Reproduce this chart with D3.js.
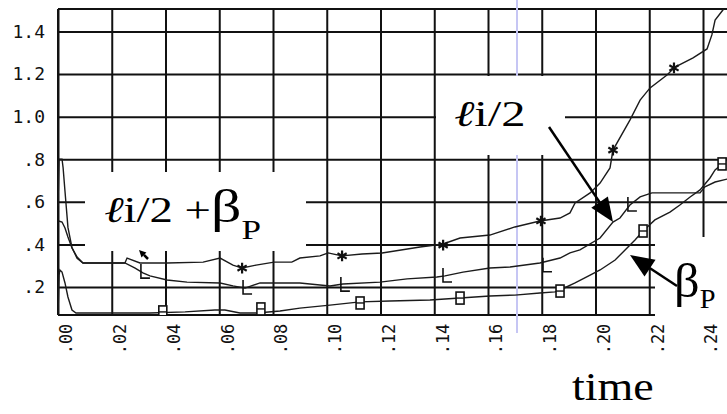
<!DOCTYPE html>
<html>
<head>
<meta charset="utf-8">
<script src="https://cdn.jsdelivr.net/npm/d3@7"></script>
<style>
  body { margin: 0; background: #fff; }
  svg { display: block; }
</style>
</head>
<body>
<div id="chart"></div>
<script>
// axis ticks
const xTicks = [0, 0.02, 0.04, 0.06, 0.08, 0.10, 0.12, 0.14, 0.16, 0.18, 0.20, 0.22, 0.24];
const xTickLabels = ['.00', '.02', '.04', '.06', '.08', '.10', '.12', '.14', '.16', '.18', '.20', '.22', '.24'];
const yTicks = [0.2, 0.4, 0.6, 0.8, 1.0, 1.2, 1.4];
const yTickLabels = ['.2', '.4', '.6', '.8', '1.0', '1.2', '1.4'];

// li/2 + betaP  (time, value)
const sumSeries = [
  [0, 0.58], [0.0004, 0.80], [0.0015, 0.80], [0.0019, 0.76], [0.0026, 0.65], [0.0037, 0.48],
  [0.0052, 0.385], [0.0071, 0.335], [0.0093, 0.313], [0.0249, 0.313], [0.0257, 0.336],
  [0.0305, 0.313], [0.0406, 0.313], [0.054, 0.317], [0.0603, 0.336], [0.0651, 0.303],
  [0.0685, 0.289], [0.0737, 0.303], [0.0804, 0.317], [0.087, 0.317], [0.090, 0.336],
  [0.0975, 0.346], [0.1005, 0.36], [0.1057, 0.346], [0.1131, 0.355], [0.1206, 0.36],
  [0.1347, 0.388], [0.1433, 0.402], [0.1496, 0.43], [0.1607, 0.444], [0.170, 0.482],
  [0.1793, 0.51], [0.1868, 0.524], [0.1905, 0.548], [0.1924, 0.595], [0.198, 0.642],
  [0.2017, 0.688], [0.2054, 0.759], [0.2065, 0.843], [0.2128, 0.984], [0.2166, 1.078],
  [0.2203, 1.135], [0.2266, 1.196], [0.2296, 1.233], [0.2363, 1.276], [0.2415, 1.318],
  [0.2433, 1.384], [0.2445, 1.454], [0.2474, 1.501], [0.25, 1.56]
];
const sumMarkers = [[0.0685, 0.289], [0.1057, 0.346], [0.1433, 0.397], [0.1797, 0.51], [0.2065, 0.843], [0.2292, 1.229]];

// li/2
const liSeries = [
  [0.0002, 0.51], [0.0015, 0.505], [0.0026, 0.477], [0.0037, 0.435], [0.0052, 0.383],
  [0.0071, 0.341], [0.0093, 0.313], [0.0249, 0.313], [0.0287, 0.289], [0.0316, 0.266],
  [0.0342, 0.252], [0.0406, 0.233], [0.048, 0.223], [0.0603, 0.219], [0.0651, 0.205],
  [0.0696, 0.195], [0.0752, 0.219], [0.090, 0.219], [0.1012, 0.205], [0.106, 0.214],
  [0.1198, 0.223], [0.1299, 0.238], [0.141, 0.247], [0.144, 0.252], [0.1507, 0.270],
  [0.1607, 0.289], [0.1682, 0.294], [0.1793, 0.313], [0.1868, 0.336], [0.1905, 0.360],
  [0.1942, 0.374], [0.2017, 0.430], [0.2065, 0.505], [0.2091, 0.524], [0.2128, 0.585],
  [0.2166, 0.623], [0.221, 0.642], [0.2389, 0.642], [0.2407, 0.670], [0.2445, 0.693],
  [0.249, 0.707]
];
const liMarkers = [[0.0316, 0.27], [0.0696, 0.195], [0.106, 0.209], [0.144, 0.252], [0.1812, 0.30], [0.2128, 0.585]];

// betaP
const betaSeries = [
  [0, 0.068], [0.0004, 0.256], [0.0007, 0.28], [0.0015, 0.27], [0.0026, 0.219], [0.0037, 0.153],
  [0.0052, 0.092], [0.0067, 0.078], [0.0156, 0.078], [0.0342, 0.078], [0.0473, 0.083],
  [0.0584, 0.092], [0.0621, 0.092], [0.0677, 0.078], [0.074, 0.078], [0.0826, 0.087],
  [0.090, 0.101], [0.1012, 0.115], [0.1124, 0.130], [0.1235, 0.134], [0.1384, 0.139],
  [0.1496, 0.148], [0.1607, 0.158], [0.170, 0.162], [0.1793, 0.172], [0.1849, 0.177],
  [0.1868, 0.186], [0.1924, 0.219], [0.198, 0.256], [0.2017, 0.28], [0.2073, 0.327],
  [0.211, 0.374], [0.2147, 0.421], [0.2177, 0.463], [0.2221, 0.515], [0.2277, 0.552],
  [0.2314, 0.585], [0.2352, 0.623], [0.2389, 0.656], [0.2426, 0.712], [0.2445, 0.75],
  [0.2471, 0.778], [0.249, 0.806]
];
const betaMarkers = [[0.039, 0.083], [0.0755, 0.097], [0.1124, 0.125], [0.1496, 0.148], [0.1868, 0.181], [0.2177, 0.463], [0.2471, 0.778]];

const width = 727;
const height = 414;
const plot = { left: 58, right: 727, top: 9, bottom: 315 };
const ink = '#111';
const serif = '"Liberation Serif", serif';
const mono = '"DejaVu Sans Mono", "Liberation Mono", monospace';

const x = d3.scaleLinear().domain([0, 0.24]).range([58, 703]);
const y = d3.scaleLinear().domain([0.2, 1.4]).range([287, 31.5]);

const svg = d3.select('#chart').append('svg')
  .attr('width', width)
  .attr('height', height);

svg.append('defs').append('clipPath').attr('id', 'plotClip')
  .append('rect')
  .attr('x', plot.left).attr('y', plot.top)
  .attr('width', plot.right - plot.left).attr('height', plot.bottom - plot.top);

// y grid + labels
svg.append('g')
  .attr('transform', `translate(${plot.left},0)`)
  .call(d3.axisLeft(y).tickValues(yTicks).tickSize(-(plot.right - plot.left)).tickPadding(13)
    .tickFormat((d, i) => yTickLabels[i]))
  .call(g => g.select('.domain').remove())
  .call(g => g.selectAll('line').attr('stroke', ink).attr('stroke-width', 2))
  .call(g => g.selectAll('text').attr('fill', ink).style('font-family', mono).style('font-size', '18px'));

// x grid + rotated labels
svg.append('g')
  .attr('transform', `translate(0,${plot.bottom})`)
  .call(d3.axisBottom(x).tickValues(xTicks).tickSize(-(plot.bottom - plot.top))
    .tickFormat((d, i) => xTickLabels[i]))
  .call(g => g.select('.domain').remove())
  .call(g => g.selectAll('line').attr('stroke', ink).attr('stroke-width', 2))
  .call(g => g.selectAll('text')
    .attr('fill', ink)
    .attr('x', 0).attr('y', 0).attr('dy', '0.35em')
    .attr('text-anchor', 'middle')
    .attr('transform', 'translate(8,24) rotate(-90)')
    .style('font-family', mono).style('font-size', '17px'));

// frame
const frame = svg.append('g').attr('stroke', ink).attr('stroke-width', 2);
frame.append('line').attr('x1', plot.left).attr('x2', plot.right).attr('y1', plot.top).attr('y2', plot.top);
frame.append('line').attr('x1', plot.left).attr('x2', plot.right).attr('y1', plot.bottom).attr('y2', plot.bottom);
frame.append('line').attr('x1', plot.left).attr('x2', plot.left).attr('y1', plot.top).attr('y2', plot.bottom);

// cursor line
svg.append('line')
  .attr('x1', 517).attr('x2', 517).attr('y1', 0).attr('y2', 333)
  .attr('stroke', '#c6c6f4').attr('stroke-width', 2);

// curves
const line = d3.line().x(d => x(d[0])).y(d => y(d[1]));
const curves = svg.append('g').attr('clip-path', 'url(#plotClip)');
[sumSeries, liSeries, betaSeries].forEach((series) => {
  curves.append('path')
    .datum(series)
    .attr('d', line)
    .attr('fill', 'none')
    .attr('stroke', '#1b1b1b')
    .attr('stroke-width', 1.4);
});

// markers
curves.selectAll('.star')
  .data(sumMarkers)
  .join('path')
  .attr('class', 'star')
  .attr('transform', d => `translate(${x(d[0])},${y(d[1])})`)
  .attr('d', d3.symbol(d3.symbolAsterisk, 80))
  .attr('fill', 'none')
  .attr('stroke', ink)
  .attr('stroke-width', 2.2);

curves.selectAll('.ell')
  .data(liMarkers)
  .join('path')
  .attr('class', 'ell')
  .attr('d', (d) => {
    const px = x(d[0]) - 2;
    const py = y(d[1]);
    return `M${px},${py - 8}V${py + 6}H${px + 9}`;
  })
  .attr('fill', 'none')
  .attr('stroke', ink)
  .attr('stroke-width', 1.6);

const bees = curves.selectAll('.bee')
  .data(betaMarkers)
  .join('g')
  .attr('class', 'bee')
  .attr('transform', d => `translate(${x(d[0])},${y(d[1])})`);
bees.append('rect')
  .attr('x', -4).attr('y', -6).attr('width', 8).attr('height', 12)
  .attr('fill', '#fff').attr('stroke', ink).attr('stroke-width', 1.6);
bees.append('line')
  .attr('x1', -4).attr('x2', 4).attr('y1', 0).attr('y2', 0)
  .attr('stroke', ink).attr('stroke-width', 1.4);

// label boxes
const boxes = [
  { x: 85, y: 172, w: 221, h: 79 },
  { x: 436, y: 76, w: 129, h: 79 },
  { x: 655, y: 237, w: 72, h: 81 },
];
svg.selectAll('.box')
  .data(boxes)
  .join('rect')
  .attr('class', 'box')
  .attr('x', d => d.x).attr('y', d => d.y)
  .attr('width', d => d.w).attr('height', d => d.h)
  .attr('fill', '#fff');

// labels
function ell(t) {
  t.append('tspan').style('font-style', 'italic').text('ℓ');
}

const sumLabel = svg.append('text')
  .attr('transform', 'translate(104,222) scale(1.3,1)')
  .style('font-family', serif).style('font-size', '36px')
  .attr('fill', '#000');
ell(sumLabel);
sumLabel.append('tspan').text('i/2 +');
sumLabel.append('tspan').style('font-size', '46px').text('β');
sumLabel.append('tspan').style('font-size', '27px').attr('dy', 17).text('P');

const liLabel = svg.append('text')
  .attr('transform', 'translate(454,126) scale(1.35,1)')
  .style('font-family', serif).style('font-size', '36px')
  .attr('fill', '#000');
ell(liLabel);
liLabel.append('tspan').text('i/2');

const betaLabel = svg.append('text')
  .attr('transform', 'translate(674,297) scale(1.05,1)')
  .style('font-family', serif).style('font-size', '48px')
  .attr('fill', '#000');
betaLabel.append('tspan').text('β');
betaLabel.append('tspan').style('font-size', '27px').attr('dy', 11).text('P');

svg.append('text')
  .attr('transform', 'translate(572,400) scale(1.15,1)')
  .style('font-family', serif).style('font-size', '40px')
  .attr('fill', '#000')
  .text('time');

// arrows
function arrow(x1, y1, x2, y2, len, half) {
  const a = Math.atan2(y2 - y1, x2 - x1);
  const bx = x2 - len * Math.cos(a);
  const by = y2 - len * Math.sin(a);
  const g = svg.append('g');
  g.append('line')
    .attr('x1', x1).attr('y1', y1).attr('x2', bx).attr('y2', by)
    .attr('stroke', '#000').attr('stroke-width', 2.5);
  g.append('polygon')
    .attr('points', [
      [x2, y2],
      [bx + half * Math.sin(a), by - half * Math.cos(a)],
      [bx - half * Math.sin(a), by + half * Math.cos(a)],
    ].map(p => p.join(',')).join(' '))
    .attr('fill', '#000');
}
arrow(549, 127, 613, 222, 24, 10);
arrow(677, 286, 630, 255, 24, 10);
arrow(148, 259, 139, 250, 7, 3.5);
</script>
</body>
</html>
